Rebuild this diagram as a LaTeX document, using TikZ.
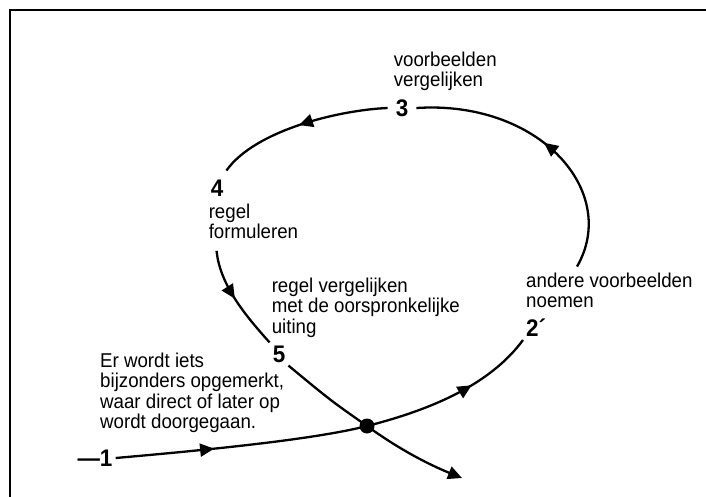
\documentclass[tikz,border=0pt]{standalone}
\usepackage{fontspec}
\setmainfont[FakeStretch=0.935]{Liberation Sans}
\usetikzlibrary{arrows.meta, positioning, decorations.markings}

\begin{document}
\begin{tikzpicture}[x=1pt, y=-1pt,
    lbl/.style={align=left, inner sep=0pt, font=\fontsize{20}{20.3}\selectfont},
    num/.style={inner sep=3pt, font=\fontsize{24}{26}\selectfont\bfseries},
    pathline/.style={line width=2.3pt},
    midarrow/.style={postaction={decorate}, decoration={markings,
        mark=at position #1 with {\arrow{Triangle[length=14pt, width=13pt]}}}}
  ]
    \useasboundingbox (0,0) rectangle (706,497);
    % frame, left and top side only
    \draw[line width=2pt] (10,497) -- (10,10) -- (706,10);

    % step numbers
    \node[num] (n1) at (95,458) {—1};
    \node[num, anchor=west] (n2) at (523,328) {2´};
    \node[num, inner xsep=8pt] (n3) at (402,108) {3};
    \node[num] (n4) at (217,188) {4};
    \node[num] (n5) at (279,354) {5};

    % texts next to the numbers
    \node[lbl, anchor=north west] (t1) at (100,353) {Er wordt iets\\bijzonders opgemerkt,\\waar direct of later op\\wordt doorgegaan.};
    \node[lbl, above=8pt of n2.north west, anchor=south west, xshift=3pt] (t2) {andere voorbeelden\\noemen};
    \node[lbl, above=5pt of n3.north west, anchor=south west, xshift=6pt] (t3) {voorbeelden\\vergelijken};
    \node[lbl, below=4pt of n4.south west, anchor=north west, xshift=1pt] (t4) {regel\\formuleren};
    \node[lbl, above=5pt of n5.north west, anchor=south west, xshift=2pt] (t5) {regel vergelijken\\met de oorspronkelijke\\uiting};

    % crossing point and end of the way out
    \node[circle, fill, inner sep=0pt, minimum size=15pt] (dot) at (367,426) {};
    \coordinate (exit) at (462,478);

    % the cycle
    \draw[pathline, midarrow=0.39] (n1.east) .. controls (230,448) and (320,438) .. (dot.center);
    \draw[pathline, midarrow=0.62] (dot.center) .. controls (430,410) and (490,385) .. (n2.south west);
    \draw[pathline, midarrow=0.51] ([xshift=51pt, yshift=6pt]t2.north west) .. controls (620,192) and (540,100) .. (n3.east);
    \draw[pathline, midarrow=0.51] (n3.west) .. controls (340,110) and (255,130) .. ([yshift=6pt]n4.north east);
    \draw[pathline, midarrow=0.48] ([xshift=8pt, yshift=-12pt]t4.south west) .. controls (220,285) and (245,315) .. (n5.north west);
    \draw[pathline, -{Triangle[length=14pt, width=13pt]}] (n5.south east) .. controls (330,400) .. (dot.center) .. controls (400,450) and (430,465) .. (exit);
\end{tikzpicture}
\end{document}
